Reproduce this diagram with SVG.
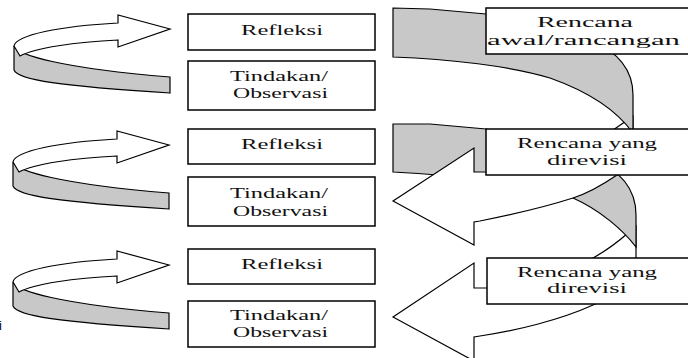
<svg xmlns="http://www.w3.org/2000/svg" width="688" height="358" viewBox="0 0 688 358">
  <style>
    .ln { stroke: #000; stroke-width: 1.2; stroke-linejoin: miter; }
    .wh { fill: #fff; }
    .gr { fill: #c8c8c8; }
    .box { fill: #fff; stroke: #000; stroke-width: 1.5; }
    .t { font-family: 'Liberation Serif', 'DejaVu Serif', serif; font-size: 15px; fill: #111; text-anchor: middle; }
  </style>
  <defs>
    <!-- small 3D loop arrow: grey underside band + white arrow on top -->
    <g id="loop">
      <path class="gr ln" d="M14,46 C18,55 60,68 170,77 L170,93 C60,86 18,80 14,70 Z"/>
      <path class="wh ln" d="M14,46 C16,35 60,26 118,23 L118,15 L170,29 L118,47 L118,40 C75,42 35,48 20,56 Z"/>
    </g>
  </defs>
  <rect width="688" height="358" fill="#fff"/>

  <g id="connectors">
    <!-- cycle loops beside the left column -->
    <use href="#loop"/>
    <use href="#loop" transform="translate(-1,116)"/>
    <use href="#loop" transform="translate(-1,236)"/>

    <!-- large curved arrow, lower: front face then back band -->
    <path class="wh ln" d="M393,317 L474,263 L474,288 L487,288 C530,282 570,270 593,258 Q611,248 628,233 L636,226 L636,290 Q620,298 600,302 L593,305 C560,320 515,331 480,336 L474,337 L474,361 Z"/>
    <path class="gr ln" d="M393,124 L430,124 L486,129 L590,158 Q636,176 636,215 L636,247 C623,230 600,210 573,198 C530,185 460,175 393,172 Z"/>

    <!-- large curved arrow, upper: front face then back band -->
    <path class="wh ln" d="M393,201 L474,148 L474,172 L486,172 C530,166 570,152 593,142 Q607,135 616,128 Q622,124 630,118 L633,116 L633,160 Q628,170 617,175 Q592,192 573,198 C545,207 505,216 480,221 L474,222 L474,245 Z"/>
    <path class="gr ln" d="M393,8 L430,9 L486,14 L590,40 Q633,58 633,95 L633,133 C620,115 595,94 550,78 C510,66 450,59 393,57 Z"/>
  </g>

  <!-- left column -->
  <g id="refleksi-1">
    <rect class="box" x="188" y="14" width="187" height="36"/>
    <text class="t" x="282" y="35" textLength="82" lengthAdjust="spacingAndGlyphs">Refleksi</text>
  </g>
  <g id="tindakan-1">
    <rect class="box" x="188" y="61" width="187" height="49"/>
    <text class="t" x="279" y="81" textLength="98" lengthAdjust="spacingAndGlyphs">Tindakan/</text>
    <text class="t" x="280.5" y="98" textLength="95" lengthAdjust="spacingAndGlyphs">Observasi</text>
  </g>
  <g id="refleksi-2">
    <rect class="box" x="188" y="129" width="187" height="35"/>
    <text class="t" x="282" y="149" textLength="82" lengthAdjust="spacingAndGlyphs">Refleksi</text>
  </g>
  <g id="tindakan-2">
    <rect class="box" x="188" y="177" width="187" height="49"/>
    <text class="t" x="279" y="198" textLength="98" lengthAdjust="spacingAndGlyphs">Tindakan/</text>
    <text class="t" x="280.5" y="216" textLength="95" lengthAdjust="spacingAndGlyphs">Observasi</text>
  </g>
  <g id="refleksi-3">
    <rect class="box" x="188" y="249" width="187" height="35"/>
    <text class="t" x="282" y="269" textLength="82" lengthAdjust="spacingAndGlyphs">Refleksi</text>
  </g>
  <g id="tindakan-3">
    <rect class="box" x="188" y="301" width="187" height="46"/>
    <text class="t" x="279" y="320" textLength="98" lengthAdjust="spacingAndGlyphs">Tindakan/</text>
    <text class="t" x="280.5" y="337" textLength="95" lengthAdjust="spacingAndGlyphs">Observasi</text>
  </g>

  <!-- right column -->
  <g id="rencana-awal">
    <rect class="box" x="486" y="8" width="230" height="46"/>
    <text class="t" x="585" y="27" textLength="96" lengthAdjust="spacingAndGlyphs">Rencana</text>
    <text class="t" x="583.5" y="45" textLength="193" lengthAdjust="spacingAndGlyphs">awal/rancangan</text>
  </g>
  <g id="rencana-revisi-1">
    <rect class="box" x="486" y="129" width="230" height="46"/>
    <text class="t" x="587" y="148" textLength="140" lengthAdjust="spacingAndGlyphs">Rencana yang</text>
    <text class="t" x="587" y="165" textLength="80" lengthAdjust="spacingAndGlyphs">direvisi</text>
  </g>
  <g id="rencana-revisi-2">
    <rect class="box" x="487" y="258" width="230" height="46"/>
    <text class="t" x="587" y="277" textLength="140" lengthAdjust="spacingAndGlyphs">Rencana yang</text>
    <text class="t" x="587" y="293" textLength="80" lengthAdjust="spacingAndGlyphs">direvisi</text>
  </g>

  <text x="-1" y="330" font-family="'Liberation Sans', Arial, sans-serif" font-size="13" fill="#000">i</text>
</svg>
